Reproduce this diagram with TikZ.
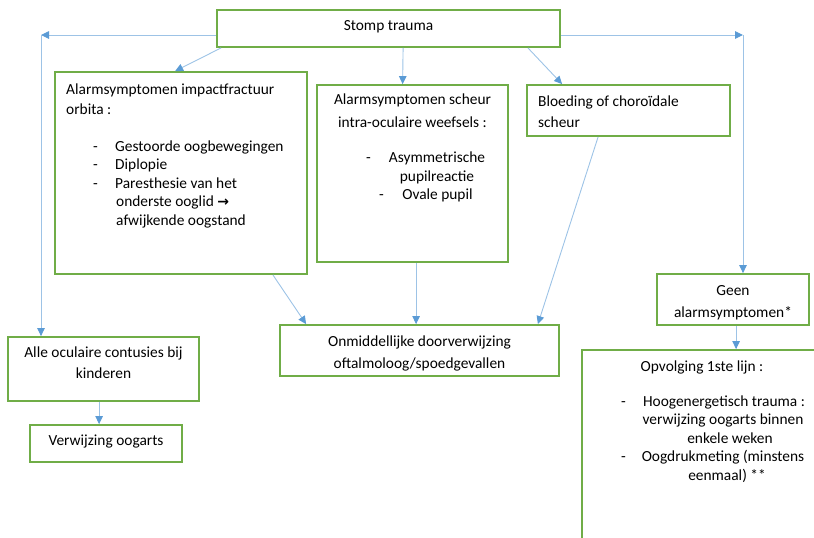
\documentclass[tikz,border=0pt]{standalone}
\usepackage{fontspec}
\setmainfont{Carlito}
\newfontfamily\symfont{DejaVu Sans}
\usetikzlibrary{arrows.meta}
\definecolor{boxgreen}{HTML}{70AD47}
\definecolor{linkblue}{HTML}{9DC3E6}
\definecolor{tipblue}{HTML}{5B9BD5}
\begin{document}
\begin{tikzpicture}[x=1pt, y=-1pt,
  font=\fontsize{15.4}{18}\selectfont,
  box/.style={draw=boxgreen, line width=1.8pt, fill=white, inner sep=0pt},
  ltxt/.style={inner sep=0pt, anchor=base west},
  ctxt/.style={inner sep=0pt, anchor=base},
  arr/.style={draw=linkblue, line width=0.9pt,
    -{Triangle[length=8pt, width=7.5pt, color=tipblue]}}]
\useasboundingbox (0,0) rectangle (814,538);
\clip (0,0) rectangle (814,538);

% boxes
\node[box, minimum width=343, minimum height=37]  (stomp) at (388.5,28.5) {};
\node[box, minimum width=252, minimum height=202] (impact) at (181,173) {};
\node[box, minimum width=191, minimum height=177] (scheur) at (412.5,173.5) {};
\node[box, minimum width=203, minimum height=51]  (bloed) at (628.5,110.5) {};
\node[box, minimum width=279, minimum height=51]  (onm) at (419.5,350.5) {};
\node[box, minimum width=191, minimum height=64]  (alle) at (103.5,369) {};
\node[box, minimum width=152, minimum height=37]  (verw) at (106,443.5) {};
\node[box, minimum width=152, minimum height=51]  (geen) at (733,299.5) {};
\node[box, minimum width=240, minimum height=210] (opv) at (702,455) {};

% texts
\node[ctxt] (tstomp) at (388.5,30) {Stomp trauma};

\node[ltxt] (ti1) at (66,94.5) {Alarmsymptomen impactfractuur};
\node[ltxt] (ti2) at (66,114.5) {orbita :};
\node[ltxt] (ti3d) at (93,151.5) {-};
\node[ltxt] (ti3) at (115,151.5) {Gestoorde oogbewegingen};
\node[ltxt] (ti4d) at (93,169.5) {-};
\node[ltxt] (ti4) at (115,169.5) {Diplopie};
\node[ltxt] (ti5d) at (93,188) {-};
\node[ltxt] (ti5) at (115,188) {Paresthesie van het};
\node[ltxt] (ti6) at (116,206.5) {onderste ooglid {\symfont\bfseries\fontsize{14}{18}\selectfont →}};
\node[ltxt] (ti7) at (116,225.5) {afwijkende oogstand};

\node[ctxt] (ts1) at (412.5,104.5) {Alarmsymptomen scheur};
\node[ctxt] (ts2) at (412.5,127.5) {intra-oculaire weefsels :};
\node[ltxt] (ts3d) at (366,162.5) {-};
\node[ctxt] (ts3) at (437,162.5) {Asymmetrische};
\node[ctxt] (ts4) at (437,181) {pupilreactie};
\node[ltxt] (ts5d) at (379,199.5) {-};
\node[ctxt] (ts5) at (437.5,199.5) {Ovale pupil};

\node[ltxt] (tb1) at (538,106.5) {Bloeding of choroïdale};
\node[ltxt] (tb2) at (538,127.5) {scheur};

\node[ctxt] (to1) at (419.5,346.5) {Onmiddellijke doorverwijzing};
\node[ctxt] (to2) at (419.5,368.5) {oftalmoloog/spoedgevallen};

\node[ctxt] (ta1) at (103.5,357.5) {Alle oculaire contusies bij};
\node[ctxt] (ta2) at (103.5,378.5) {kinderen};

\node[ctxt] (tv1) at (106,445.5) {Verwijzing oogarts};

\node[ctxt] (tg1) at (733,295.5) {Geen};
\node[ctxt] (tg2) at (733,317.5) {alarmsymptomen*};

\node[ctxt] (tp1) at (702,371.5) {Opvolging 1ste lijn :};
\node[ltxt] (tp2d) at (621,406.5) {-};
\node[ctxt] (tp2) at (724,406.5) {Hoogenergetisch trauma :};
\node[ctxt] (tp3) at (723,424.5) {verwijzing oogarts binnen};
\node[ctxt] (tp4) at (730,443.5) {enkele weken};
\node[ltxt] (tp5d) at (621,461.5) {-};
\node[ctxt] (tp5) at (723,461.5) {Oogdrukmeting (minstens};
\node[ctxt] (tp6) at (727,480.5) {eenmaal) **};

% connectors
\coordinate (lc) at (41,35);
\coordinate (rc) at (743,35);
\draw[arr] (stomp.west |- lc) -- (lc);
\draw[arr] (lc) -- (alle.north -| lc);
\draw[arr] (stomp.east |- rc) -- (rc);
\draw[arr] (rc) -- (geen.north -| rc);

\draw[arr] ([xshift=5pt]stomp.south west) -- ([xshift=121pt]impact.north west);
\draw[arr] ([xshift=187pt]stomp.south west) -- ([xshift=86.5pt]scheur.north west);
\draw[arr] ([xshift=-33pt]stomp.south east) -- ([xshift=36pt]bloed.north west);

\draw[arr] ([xshift=-35pt]impact.south east) -- ([xshift=27pt]onm.north west);
\draw[arr] ([xshift=100pt]scheur.south west) -- ([xshift=137pt]onm.north west);
\draw[arr] ([xshift=72pt]bloed.south west) -- ([xshift=-22pt]onm.north east);

\draw[arr] ([xshift=92pt]alle.south west) -- ([xshift=70pt]verw.north west);
\draw[arr] ([xshift=80pt]geen.south west) -- ([xshift=155pt]opv.north west);
\end{tikzpicture}
\end{document}
